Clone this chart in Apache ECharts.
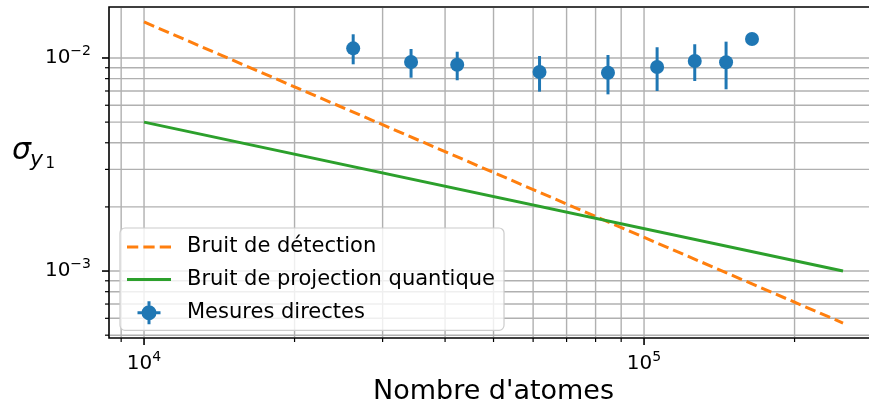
<!DOCTYPE html>
<html><head><meta charset="utf-8">
<script src="https://cdn.jsdelivr.net/npm/echarts@6/dist/echarts.min.js"></script>
<style>html,body{margin:0;padding:0;background:#fff}#c{width:869px;height:410px}</style>
</head><body><div id="c"></div>
<script>
const FONT = '"DejaVu Sans", sans-serif';
// Direct measurements (Mesures directes)
const atomNumbers = [26200, 34200, 42300, 61800, 84700, 106200, 126300, 145900, 164400];
const sigmaMeasured = [0.01110, 0.00958, 0.00930, 0.00860, 0.00853, 0.00907, 0.00968, 0.00955, 0.01228];
const sigmaLow = [0.00934, 0.00808, 0.00786, 0.00695, 0.00675, 0.00700, 0.00780, 0.00713, 0.01200];
const sigmaHigh = [0.01292, 0.01102, 0.01070, 0.01022, 0.01033, 0.01123, 0.01160, 0.01193, 0.01260];
// Theory curves
const theoryAtoms = [10000, 250000];
const detectionNoise = [0.01476, 0.00057];
const projectionNoise = [0.0050, 0.0010];
// Axes
const xRange = [8510, 293700];
const yRange = [0.000485, 0.01735];
const xMajorTicks = [1e4, 1e5];
const xMinorTicks = [9e3, 2e4, 3e4, 4e4, 5e4, 6e4, 7e4, 8e4, 9e4, 2e5];
const yMajorTicks = [1e-3, 1e-2];
const yMinorTicks = [5e-4, 6e-4, 7e-4, 8e-4, 9e-4, 2e-3, 3e-3, 4e-3, 5e-3, 6e-3, 7e-3, 8e-3, 9e-3];
const seriesNames = ['Bruit de détection', 'Bruit de projection quantique', 'Mesures directes'];
const xName = "Nombre d'atomes";

const BLUE = '#1f77b4', ORANGE = '#ff7f0e', GREEN = '#2ca02c', GRID = '#b0b0b0';

function powLabel(v) {
  const l = Math.log10(v);
  const e = Math.round(l);
  if (Math.abs(l - e) > 1e-6) return '';
  return '{b|10}{s|' + String(e).replace('-', '\u2212') + '}';
}
const rich = {
  b: { fontSize: 20, fontFamily: FONT, color: '#000', lineHeight: 28, verticalAlign: 'middle' },
  s: { fontSize: 14, fontFamily: FONT, color: '#000', lineHeight: 14, verticalAlign: 'top' }
};

const xGridData = xMajorTicks.map(v => [v, yRange[0], 1]).concat(xMinorTicks.map(v => [v, yRange[0], 0]));
const yGridData = yMajorTicks.map(v => [xRange[0], v, 1]).concat(yMinorTicks.map(v => [xRange[0], v, 0]));

const chart = echarts.init(document.getElementById('c'), null, { renderer: 'canvas' });
chart.setOption({
  animation: false,
  backgroundColor: '#fff',
  grid: { left: 109, top: 7, right: -9, bottom: 72, show: true, borderColor: '#000', borderWidth: 1.6,
          backgroundColor: 'transparent', containLabel: false, outerBoundsMode: 'none' },
  xAxis: {
    type: 'log', logBase: 10, min: xRange[0], max: xRange[1],
    name: xName, nameLocation: 'middle', nameGap: 40,
    nameTextStyle: { fontSize: 27, fontFamily: FONT, color: '#000' },
    axisLine: { show: false }, axisTick: { show: false }, splitLine: { show: false }, minorTick: { show: false },
    axisLabel: { margin: 12, formatter: powLabel, rich: rich, showMinLabel: false, showMaxLabel: false, hideOverlap: false }
  },
  yAxis: {
    type: 'log', logBase: 10, min: yRange[0], max: yRange[1],
    axisLine: { show: false }, axisTick: { show: false }, splitLine: { show: false }, minorTick: { show: false },
    axisLabel: { margin: 18, formatter: powLabel, rich: rich, showMinLabel: false, showMaxLabel: false, hideOverlap: false }
  },
  legend: {
    orient: 'vertical', left: 120, top: 228,
    padding: [8.5, 9, 6, 7], itemGap: 11.4, itemWidth: 44, itemHeight: 23,
    backgroundColor: 'rgba(255,255,255,0.8)', borderColor: '#cccccc', borderWidth: 1.2, borderRadius: 5,
    textStyle: { fontSize: 21, fontFamily: FONT, color: '#000', padding: [0, 0, 0, 11] },
    data: [
      { name: seriesNames[0], icon: 'path://M0,0 h11 v3 h-11 Z M16,0 h11 v3 h-11 Z M32,0 h11 v3 h-11 Z' },
      { name: seriesNames[1], icon: 'path://M0,0 h44 v3 h-44 Z' },
      { name: seriesNames[2], icon: 'path://M4,11.5 a7.5,7.5 0 1,1 15,0 a7.5,7.5 0 1,1 -15,0 Z M10,0 h3 v23 h-3 Z M0,10 h23 v3 h-23 Z' }
    ]
  },
  graphic: [
    { type: 'text', x: 12, y: 151.5, style: { text: 'σ', fontSize: 30, fontStyle: 'italic', fontFamily: 'DejaVu Sans', fill: '#000', verticalAlign: 'middle', align: 'left' } },
    { type: 'text', x: 30, y: 160.5, style: { text: 'y', fontSize: 22, fontStyle: 'italic', fontFamily: 'DejaVu Sans', fill: '#000', verticalAlign: 'middle', align: 'left' } },
    { type: 'text', x: 45.5, y: 164.5, style: { text: '1', fontSize: 15, fontFamily: 'DejaVu Sans', fill: '#000', verticalAlign: 'middle', align: 'left' } }
  ],
  series: [
    {
      type: 'custom', name: 'xgrid', silent: true, z: 1, clip: false,
      data: xGridData,
      renderItem: function (params, api) {
        const cs = params.coordSys;
        const x = api.coord([api.value(0), api.value(1)])[0];
        const major = api.value(2) === 1;
        const b = cs.y + cs.height;
        return { type: 'group', children: [
          { type: 'line', shape: { x1: x, y1: cs.y + 1, x2: x, y2: b - 1 }, style: { stroke: GRID, lineWidth: 1.4 } },
          { type: 'line', shape: { x1: x, y1: b, x2: x, y2: b + (major ? 7 : 4) }, style: { stroke: '#000', lineWidth: major ? 1.6 : 1.2 } }
        ] };
      }
    },
    {
      type: 'custom', name: 'ygrid', silent: true, z: 1, clip: false,
      data: yGridData,
      renderItem: function (params, api) {
        const cs = params.coordSys;
        const y = api.coord([api.value(0), api.value(1)])[1];
        const major = api.value(2) === 1;
        return { type: 'group', children: [
          { type: 'line', shape: { x1: cs.x + 1, y1: y, x2: cs.x + cs.width, y2: y }, style: { stroke: GRID, lineWidth: 1.4 } },
          { type: 'line', shape: { x1: cs.x - (major ? 7 : 4), y1: y, x2: cs.x, y2: y }, style: { stroke: '#000', lineWidth: major ? 1.6 : 1.2 } }
        ] };
      }
    },
    {
      type: 'line', name: seriesNames[0], z: 3, symbol: 'none', showSymbol: false,
      data: theoryAtoms.map((x, i) => [x, detectionNoise[i]]),
      lineStyle: { color: ORANGE, width: 3, type: [11, 5] }, itemStyle: { color: ORANGE }
    },
    {
      type: 'line', name: seriesNames[1], z: 3, symbol: 'none', showSymbol: false,
      data: theoryAtoms.map((x, i) => [x, projectionNoise[i]]),
      lineStyle: { color: GREEN, width: 3 }, itemStyle: { color: GREEN }
    },
    {
      type: 'custom', name: 'errorbars', z: 4, silent: true,
      data: atomNumbers.map((x, i) => [x, sigmaMeasured[i], sigmaLow[i], sigmaHigh[i]]),
      encode: { x: 0, y: [1, 2, 3] },
      renderItem: function (params, api) {
        const lo = api.coord([api.value(0), api.value(2)]);
        const hi = api.coord([api.value(0), api.value(3)]);
        return { type: 'line', shape: { x1: lo[0], y1: lo[1], x2: hi[0], y2: hi[1] }, style: { stroke: BLUE, lineWidth: 3 } };
      }
    },
    {
      type: 'scatter', name: seriesNames[2], z: 5, symbol: 'circle', symbolSize: 14,
      data: atomNumbers.map((x, i) => [x, sigmaMeasured[i]]),
      itemStyle: { color: BLUE, opacity: 1 }
    }
  ]
});
</script>
</body></html>
